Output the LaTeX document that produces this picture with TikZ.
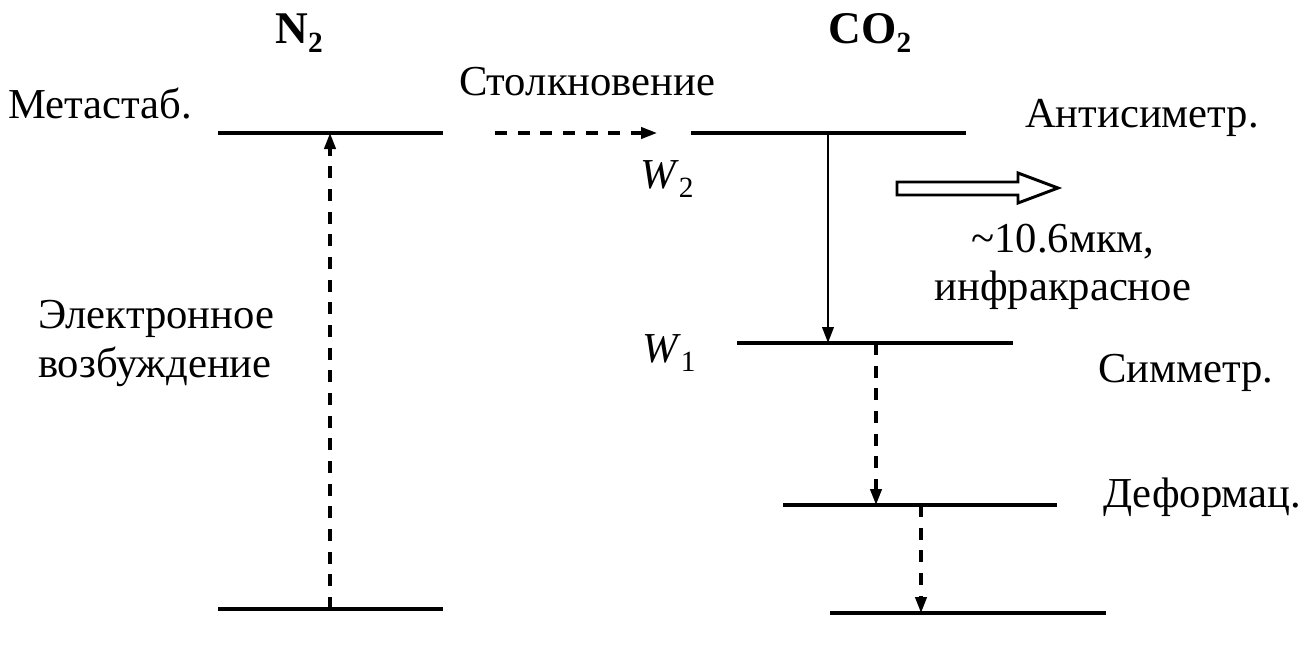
\documentclass[tikz,border=0pt]{standalone}
\usepackage{fontspec}
\setmainfont{Liberation Serif}
\usetikzlibrary{arrows.meta}
\newcommand{\mysub}[1]{\raisebox{-0.22em}{\fontsize{22}{22}\selectfont #1}}
\begin{document}
\begin{tikzpicture}[x=0.75pt,y=-0.75pt,
  every node/.style={inner sep=0pt,outer sep=0pt,font=\fontsize{32}{37}\selectfont},
  level/.style={line width=2.5pt},
  tip/.style={-{Triangle[length=12pt,width=8.5pt]}},
  dasharrow/.style={tip,line width=2.4pt,dash pattern=on 9pt off 8pt},
  solidarrow/.style={tip,line width=2.1pt},
  lbl/.style={anchor=base west}]
\useasboundingbox (0,0) rectangle (1311,646);
% titles
\node[anchor=base,font=\fontsize{34}{38}\selectfont\bfseries] (tn2) at (299,43) {N\mysub{2}};
\node[anchor=base,font=\fontsize{34}{38}\selectfont\bfseries] (tco2) at (870,43) {CO\mysub{2}};
% N2 levels
\draw[level] (218,133) coordinate (n2tl) -- (443,133) coordinate (n2tr);
\draw[level] (218,609) coordinate (n2bl) -- (443,609) coordinate (n2br);
\coordinate (n2top) at (330,133);
\coordinate (n2bot) at (330,609);
\draw[dasharrow] (n2bot) -- (n2top);
% CO2 levels
\draw[level] (691,133) coordinate (a1) -- (966,133) coordinate (a2);
\draw[level] (737,343) coordinate (s1) -- (1013,343) coordinate (s2);
\draw[level] (783,505) coordinate (d1) -- (1057,505) coordinate (d2);
\draw[level] (830,613) coordinate (g1) -- (1106,613) coordinate (g2);
% collision arrow
\coordinate (c1) at (495,133);
\coordinate (c2) at (657,133);
\draw[dasharrow] (c1) -- (c2);
% laser transition
\coordinate (l1) at (828,133);
\coordinate (l2) at (828,343);
\draw[solidarrow] (l1) -- (l2);
% relaxation
\coordinate (r1) at (876,343);
\coordinate (r2) at (876,505);
\draw[dasharrow] (r1) -- (r2);
\coordinate (r3) at (921,505);
\coordinate (r4) at (921,613);
\draw[dasharrow] (r3) -- (r4);
% hollow output arrow
\draw[line width=2.2pt,fill=white,line join=miter] (897,182) -- (1018,182) -- (1018,173) -- (1058,188)
  -- (1018,203) -- (1018,195) -- (897,195) -- cycle;
% labels
\node[lbl] (meta) at (8,118) {Метастаб.};
\node[lbl] (stolk) at (459,95) {Столкновение};
\node[lbl] (anti) at (1025,127) {Антисиметр.};
\node[lbl] (w2) at (640,188) {\textit{W}\mysub{2}};
\node[lbl] (w1) at (642,362) {\textit{W}\mysub{1}};
\node[anchor=base] (lam) at (1063,252) {\textasciitilde10.6мкм,};
\node[anchor=base] (ir) at (1063,300) {инфракрасное};
\node[lbl] (sym) at (1098,382) {Симметр.};
\node[lbl] (def) at (1103,507) {Деформац.};
\node[lbl] (el1) at (38,328) {Электронное};
\node[lbl] (el2) at (38,377) {возбуждение};
\end{tikzpicture}
\end{document}
